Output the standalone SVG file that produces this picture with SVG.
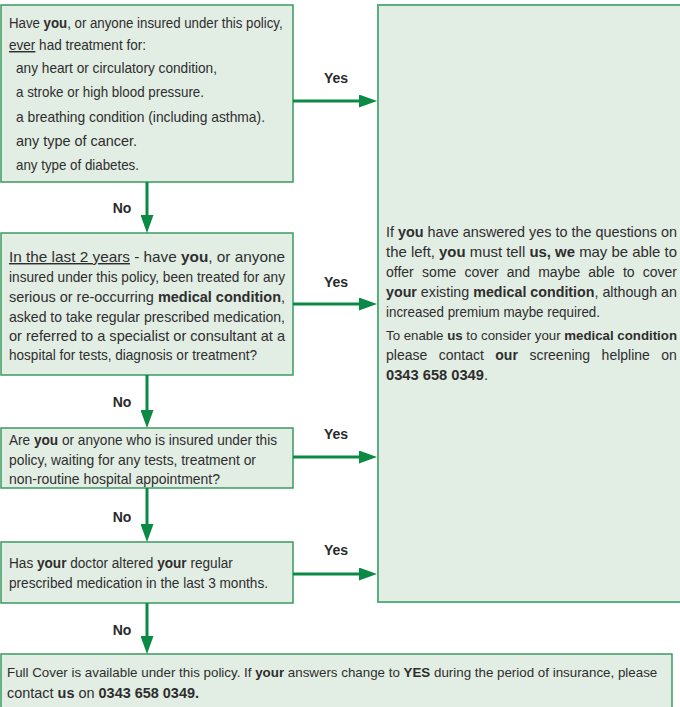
<svg xmlns="http://www.w3.org/2000/svg" width="680" height="707" viewBox="0 0 680 707">
<style>
.box{fill:#e2ede4;stroke:#3a9a60;stroke-width:1.5}
.rbox{fill:#e2ede4;stroke:#5aaf80;stroke-width:2}
.t{font-family:"Liberation Sans",Arial,sans-serif;font-size:14.5px;fill:#2e2e2e}
.b{font-weight:bold}
.lbl{font-family:"Liberation Sans",Arial,sans-serif;font-size:14px;font-weight:bold;fill:#2a2a2a;text-anchor:middle}
.ar{stroke:#0a8a45;stroke-width:3;fill:none}
.u{text-decoration:underline}
</style>
<defs>
<marker id="ah" markerWidth="18" markerHeight="13" refX="10" refY="6.5" orient="auto" markerUnits="userSpaceOnUse">
<path d="M0,0 L18,6.5 L0,13 z" fill="#0a8a45"/>
</marker>
</defs>

<g id="q1">
<rect class="box" x="1" y="5" width="292" height="177"/>
<text class="t" transform="translate(9,28) scale(0.915,1)">Have <tspan class="b">you</tspan>, or anyone insured under this policy,</text>
<text class="t" x="9" y="50" textLength="137" lengthAdjust="spacingAndGlyphs"><tspan class="u">ever</tspan> had treatment for:</text>
<text class="t" x="16" y="73" textLength="201" lengthAdjust="spacingAndGlyphs">any heart or circulatory condition,</text>
<text class="t" x="16" y="97" textLength="188" lengthAdjust="spacingAndGlyphs">a stroke or high blood pressure.</text>
<text class="t" x="16" y="122" textLength="249" lengthAdjust="spacingAndGlyphs">a breathing condition (including asthma).</text>
<text class="t" x="16" y="146" textLength="121" lengthAdjust="spacingAndGlyphs">any type of cancer.</text>
<text class="t" x="16" y="170" textLength="123" lengthAdjust="spacingAndGlyphs">any type of diabetes.</text>
</g>

<g id="q2">
<rect class="box" x="1" y="233" width="292" height="142"/>
<text class="t" x="9" y="262" textLength="276" lengthAdjust="spacingAndGlyphs"><tspan class="u">In the last 2 years</tspan> - have <tspan class="b">you</tspan>, or anyone</text>
<text class="t" x="9" y="282" textLength="276" lengthAdjust="spacingAndGlyphs">insured under this policy, been treated for any</text>
<text class="t" x="9" y="302" textLength="276" lengthAdjust="spacingAndGlyphs">serious or re-occurring <tspan class="b">medical condition</tspan>,</text>
<text class="t" x="9" y="322" textLength="276" lengthAdjust="spacingAndGlyphs">asked to take regular prescribed medication,</text>
<text class="t" x="9" y="341" textLength="276" lengthAdjust="spacingAndGlyphs">or referred to a specialist or consultant at a</text>
<text class="t" x="9" y="360" textLength="248" lengthAdjust="spacingAndGlyphs">hospital for tests, diagnosis or treatment?</text>
</g>

<g id="q3">
<rect class="box" x="1" y="428" width="292" height="60"/>
<text class="t" x="9" y="445" textLength="268" lengthAdjust="spacingAndGlyphs">Are <tspan class="b">you</tspan> or anyone who is insured under this</text>
<text class="t" x="9" y="465" textLength="247" lengthAdjust="spacingAndGlyphs">policy, waiting for any tests, treatment or</text>
<text class="t" x="9" y="484" textLength="211" lengthAdjust="spacingAndGlyphs">non-routine hospital appointment?</text>
</g>

<g id="q4">
<rect class="box" x="1" y="542" width="292" height="61"/>
<text class="t" transform="translate(9,568) scale(0.939,1)">Has <tspan class="b">your</tspan> doctor altered <tspan class="b">your</tspan> regular</text>
<text class="t" x="9" y="588" textLength="259" lengthAdjust="spacingAndGlyphs">prescribed medication in the last 3 months.</text>
</g>

<g id="yesbox">
<rect class="rbox" x="378" y="5" width="310" height="597"/>
<text class="t" x="386" y="237" textLength="291" lengthAdjust="spacingAndGlyphs">If <tspan class="b">you</tspan> have answered yes to the questions on</text>
<text class="t" x="386" y="257" textLength="291" lengthAdjust="spacingAndGlyphs">the left, <tspan class="b">you</tspan> must tell <tspan class="b">us, we</tspan> may be able to</text>
<text class="t" y="277" style="font-size:14px"><tspan x="386">offer </tspan><tspan x="422.1">some </tspan><tspan x="464.4">cover </tspan><tspan x="506.7">and </tspan><tspan x="538.2">maybe </tspan><tspan x="588.3">able </tspan><tspan x="622.9">to </tspan><tspan x="642.7">cover</tspan></text>
<text class="t" x="386" y="297" textLength="291" lengthAdjust="spacingAndGlyphs"><tspan class="b">your</tspan> existing <tspan class="b">medical condition</tspan>, although an</text>
<text class="t" x="386" y="317" textLength="214" lengthAdjust="spacingAndGlyphs">increased premium maybe required.</text>
<text class="t" x="386" y="340" textLength="291" lengthAdjust="spacingAndGlyphs" style="font-size:13.3px">To enable <tspan class="b">us</tspan> to consider your <tspan class="b">medical condition</tspan></text>
<text class="t" y="360" style="font-size:14px"><tspan x="386">please </tspan><tspan x="438.7">contact </tspan><tspan x="495.3" class="b">our </tspan><tspan x="529.4">screening </tspan><tspan x="601.6">helpline </tspan><tspan x="661.3">on</tspan></text>
<text class="t" x="386" y="380" textLength="102" lengthAdjust="spacingAndGlyphs"><tspan class="b">0343 658 0349</tspan>.</text>
</g>

<g id="fullcover">
<rect class="box" x="1" y="654" width="671" height="60"/>
<text class="t" x="7" y="677" style="font-size:13.35px">Full Cover is available under this policy. If <tspan class="b">your</tspan> answers change to <tspan class="b">YES</tspan> during the period of insurance, please</text>
<text class="t" x="7" y="698" textLength="192" lengthAdjust="spacingAndGlyphs">contact <tspan class="b">us</tspan> on <tspan class="b">0343 658 0349.</tspan></text>
</g>

<g id="connectors">
<line class="ar" x1="293" y1="101" x2="369" y2="101" marker-end="url(#ah)"/>
<line class="ar" x1="293" y1="304" x2="369" y2="304" marker-end="url(#ah)"/>
<line class="ar" x1="293" y1="457" x2="369" y2="457" marker-end="url(#ah)"/>
<line class="ar" x1="293" y1="574" x2="369" y2="574" marker-end="url(#ah)"/>
<line class="ar" x1="147" y1="182" x2="147" y2="225" marker-end="url(#ah)"/>
<line class="ar" x1="147" y1="375" x2="147" y2="420" marker-end="url(#ah)"/>
<line class="ar" x1="147" y1="488" x2="147" y2="534" marker-end="url(#ah)"/>
<line class="ar" x1="147" y1="603" x2="147" y2="646" marker-end="url(#ah)"/>
<text class="lbl" x="336" y="83">Yes</text>
<text class="lbl" x="336" y="287">Yes</text>
<text class="lbl" x="336" y="439">Yes</text>
<text class="lbl" x="336" y="555">Yes</text>
<text class="lbl" x="122" y="213">No</text>
<text class="lbl" x="122" y="407">No</text>
<text class="lbl" x="122" y="522">No</text>
<text class="lbl" x="122" y="635">No</text>
</g>
</svg>
